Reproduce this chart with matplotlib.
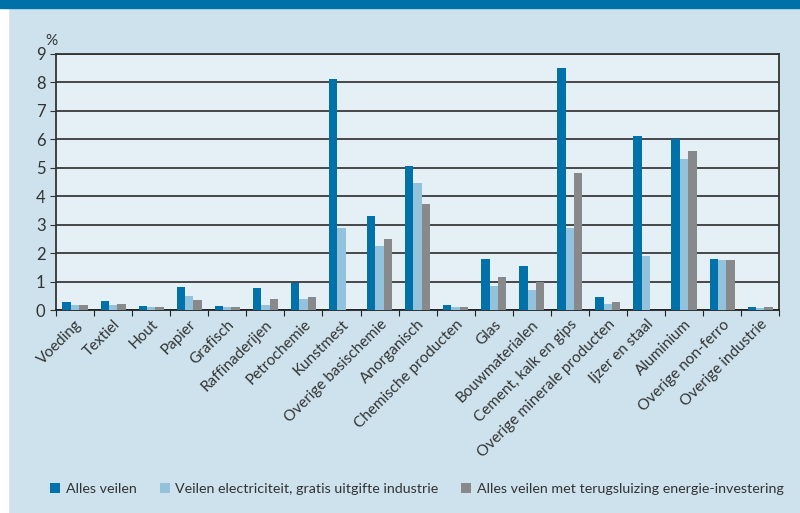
import matplotlib.pyplot as plt
import numpy as np
from matplotlib.patches import Rectangle

plt.rcParams['font.family'] = ['Lato', 'DejaVu Sans']

categories = ["Voeding", "Textiel", "Hout", "Papier", "Grafisch", "Raffinaderijen",
              "Petrochemie", "Kunstmest", "Overige basischemie", "Anorganisch",
              "Chemische producten", "Glas", "Bouwmaterialen", "Cement, kalk en gips",
              "Overige minerale producten", "Ijzer en staal", "Aluminium",
              "Overige non-ferro", "Overige industrie"]
alles_veilen = [0.28, 0.32, 0.14, 0.81, 0.14, 0.77, 0.96, 8.13, 3.31, 5.07,
                0.18, 1.80, 1.55, 8.49, 0.46, 6.13, 6.02, 1.80, 0.11]
gratis_industrie = [0.18, 0.18, 0.11, 0.49, 0.11, 0.18, 0.39, 2.89, 2.25, 4.47,
                    0.11, 0.85, 0.70, 2.89, 0.21, 1.90, 5.32, 1.76, 0.07]
terugsluizing = [0.18, 0.21, 0.11, 0.35, 0.11, 0.39, 0.46, 0.0, 2.50, 3.73,
                 0.11, 1.16, 0.99, 4.82, 0.28, 0.0, 5.60, 1.76, 0.11]
series_names = ["Alles veilen", "Veilen electriciteit, gratis uitgifte industrie",
                "Alles veilen met terugsluizing energie-investering"]
colors = ["#0071a9", "#93c3dc", "#88898b"]

bg = "#cde2ec"
fig = plt.figure(figsize=(8, 5.13), dpi=100, facecolor=bg)
fig.patches.append(Rectangle((0, 0), 0.01, 1, transform=fig.transFigure, color="white", zorder=0))
fig.patches.append(Rectangle((0, 0.984), 1, 0.016, transform=fig.transFigure, color="#0070a8", zorder=1))

ax = fig.add_axes([0.07, 0.395, 0.904, 0.5])
ax.set_facecolor("#e5f0f6")
x = np.arange(len(categories))
w = 0.22
for k, (vals, c) in enumerate(zip([alles_veilen, gratis_industrie, terugsluizing], colors)):
    ax.bar(x + (k - 1) * w, vals, width=w, color=c, label=series_names[k], zorder=3)

ax.set_xlim(-0.5, len(categories) - 0.5)
ax.set_ylim(0, 9)
ax.set_yticks(range(10))
ax.yaxis.grid(True, color="#3a3a3a", linewidth=1.3, zorder=1)
ax.set_xticks(np.arange(len(categories) + 1) - 0.5, minor=False)
ax.set_xticklabels([])
ax.set_xticks(x, minor=True)
ax.set_xticklabels(categories, minor=True, rotation=45, ha="right", va="top",
                   rotation_mode="anchor", fontsize=11, color="#333333")
ax.tick_params(axis="x", which="minor", length=0, pad=5)
ax.tick_params(axis="x", which="major", length=4, direction="out", color="#222222")
ax.tick_params(axis="y", labelsize=12, colors="#333333", length=4, direction="out")
for s in ax.spines.values():
    s.set_color("#333333")
    s.set_linewidth(1.3)
ax.spines["bottom"].set_color("#222222")
ax.text(-0.015, 1.035, "%", transform=ax.transAxes, fontsize=11, color="#333333")

handles, labels = ax.get_legend_handles_labels()
fig.legend(handles, labels, loc="lower left", bbox_to_anchor=(0.052, 0.018), ncol=3,
           frameon=False, fontsize=10.3, handlelength=0.7, handleheight=0.7,
           handletextpad=0.4, columnspacing=1.6, labelcolor="#333333",
           borderaxespad=0.2)

fig.savefig("out.png", dpi=100, facecolor=bg)
